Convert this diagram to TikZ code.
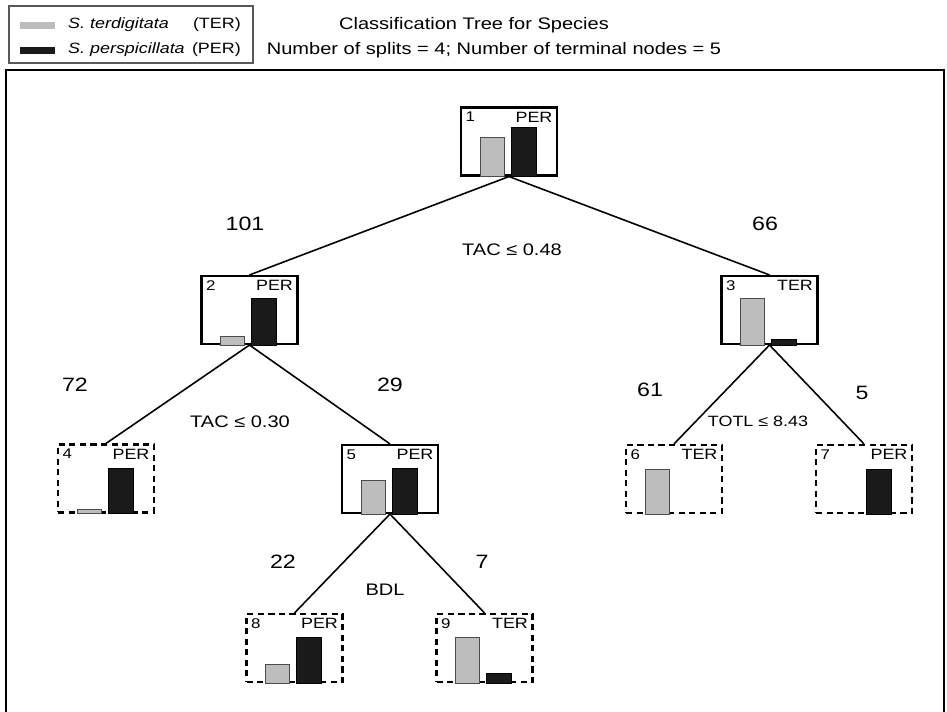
\documentclass[tikz,border=0pt]{standalone}
\usepackage{fontspec}
\setmainfont{Liberation Sans}[FakeStretch=1.2]
\definecolor{tergray}{HTML}{BDBDBD}
\definecolor{peredge}{HTML}{1A1A1A}
\usepackage{tikz}
\usetikzlibrary{calc}

\tikzset{
  splitbox/.style={rectangle, draw=black, line width=1.2pt,
    minimum width=1.92cm, minimum height=1.36cm, inner sep=0pt},
  leafbox/.style={splitbox, dashed, dash pattern=on 3.5pt off 2.5pt},
  idtext/.style={font=\fontsize{8}{9}\selectfont, inner sep=3pt},
  classtext/.style={font=\fontsize{8.5}{9}\selectfont, inner sep=3pt},
  terbar/.style={fill=tergray, draw=gray!60!black, line width=0.5pt},
  perbar/.style={fill=peredge, draw=black, line width=0.5pt},
  branch/.style={draw=black, line width=0.9pt},
  countlabel/.style={font=\fontsize{11}{12}\selectfont},
  splitlabel/.style={font=\fontsize{9.5}{10}\selectfont},
  legendtext/.style={font=\fontsize{8.5}{10}\selectfont},
  legendname/.style={font=\fontsize{8.5}{10}\selectfont\itshape}
}

\begin{document}
\begin{tikzpicture}[x=0.02cm, y=0.02cm]
  \useasboundingbox (0,0) rectangle (947,-712);

  % legend and title
  \draw[line width=0.6pt, gray!70!black] (9,-6) rectangle (253,-63);
  \fill[tergray] (20,-22) rectangle (55,-29);
  \fill[peredge] (20,-47) rectangle (55,-54);
  \node[legendname, anchor=west] (terleg) at (62,-25) {S. terdigitata};
  \node[legendtext, anchor=east] (tercode) at (247,-25) {(TER)};
  \node[legendname, anchor=west] (perleg) at (62,-50) {S. perspicillata};
  \node[legendtext, anchor=east] (percode) at (247,-50) {(PER)};
  \node[font=\fontsize{9.5}{11}\selectfont] (title) at (474,-25) {Classification Tree for Species};
  \node[font=\fontsize{9.5}{11}\selectfont] (subtitle) at (494,-50)
    {Number of splits = 4; Number of terminal nodes = 5};

  % frame
  \draw[line width=1pt] (6,-712) -- (6,-70) -- (944,-70) -- (944,-712);

  % tree nodes
  \node[splitbox] (n1) at (509,-141.5) {};
  \node[splitbox] (n2) at (249.5,-310) {};
  \node[splitbox] (n3) at (769.5,-310) {};
  \node[leafbox] (n4) at (106,-478.5) {};
  \node[splitbox] (n5) at (390,-479) {};
  \node[leafbox] (n6) at (674,-479) {};
  \node[leafbox] (n7) at (864,-479) {};
  \node[leafbox] (n8) at (294.5,-648) {};
  \node[leafbox] (n9) at (484.5,-648) {};

  % bars and tags
  \foreach \nd/\num/\cls/\hter/\hper in {n1/1/PER/39/49, n2/2/PER/9/47,
      n3/3/TER/47/6, n4/4/PER/4/45, n5/5/PER/34/46, n6/6/TER/45/0,
      n7/7/PER/0/45, n8/8/PER/19/46, n9/9/TER/46/10}{
    \ifnum\hter>0
      \draw[terbar] ($(\nd.south)+(-29,0)$) rectangle +(24,\hter);
    \fi
    \ifnum\hper>0
      \draw[perbar] ($(\nd.south)+(2,0)$) rectangle +(25,\hper);
    \fi
    \node[idtext, anchor=north west] at (\nd.north west) {\num};
    \node[classtext, anchor=north east] at (\nd.north east) {\cls};
  }

  % branches
  \draw[branch] (n1.south) -- (n2.north);
  \draw[branch] (n1.south) -- (n3.north);
  \draw[branch] (n2.south) -- (n4.north);
  \draw[branch] (n2.south) -- (n5.north);
  \draw[branch] (n3.south) -- (n6.north);
  \draw[branch] (n3.south) -- (n7.north);
  \draw[branch] (n5.south) -- (n8.north);
  \draw[branch] (n5.south) -- (n9.north);

  % counts and split rules
  \node[countlabel] (c2) at (245,-224) {101};
  \node[countlabel] (c3) at (765,-224) {66};
  \node[splitlabel] (s1) at (512,-250) {TAC ≤ 0.48};
  \node[countlabel] (c4) at (75,-385) {72};
  \node[countlabel] (c5) at (390,-385) {29};
  \node[splitlabel] (s2) at (240,-422) {TAC ≤ 0.30};
  \node[countlabel] (c6) at (650,-390) {61};
  \node[countlabel] (c7) at (862,-393) {5};
  \node[splitlabel, font=\fontsize{8.5}{9}\selectfont] (s3) at (758,-421) {TOTL ≤ 8.43};
  \node[countlabel] (c8) at (283,-562) {22};
  \node[splitlabel] (s4) at (385,-590) {BDL};
  \node[countlabel] (c9) at (482,-562) {7};
\end{tikzpicture}
\end{document}
